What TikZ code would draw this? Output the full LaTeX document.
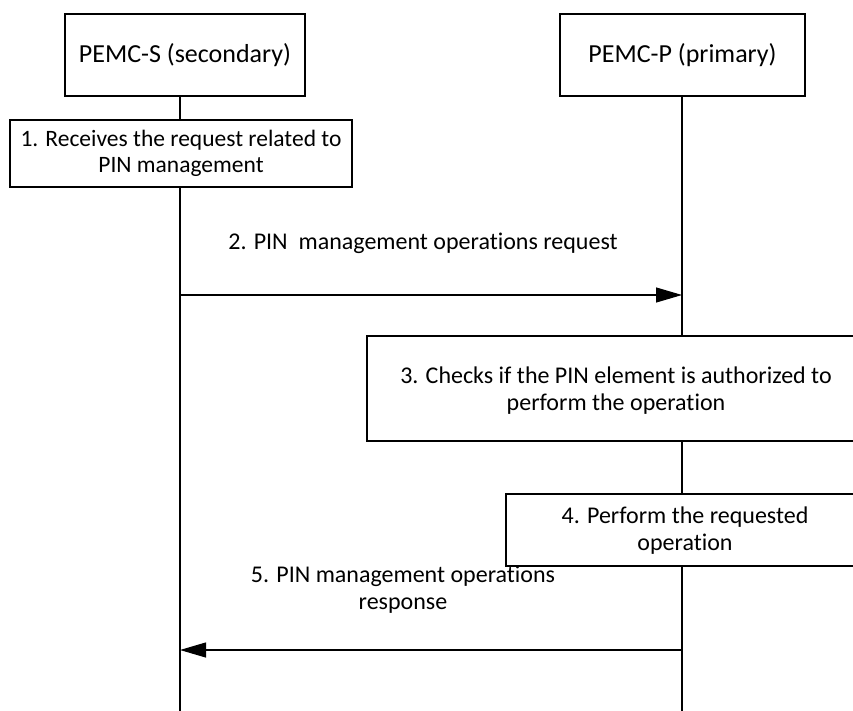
\documentclass[tikz,border=0pt]{standalone}
\usepackage{fontspec}
\setmainfont[Ligatures={NoCommon}]{Carlito}
\usepackage{tikz}
\usetikzlibrary{arrows.meta}

\tikzset{
  entity/.style = {draw, fill=white, line width=1.1pt, inner sep=0pt, font=\fontsize{26}{30}\selectfont},
  stepbox/.style = {draw, fill=white, line width=1.1pt, inner sep=0pt, align=center, font=\fontsize{23.5}{26}\selectfont},
  msg/.style = {line width=1.1pt, -{Triangle[length=26pt, width=15pt]}},
  msglabel/.style = {align=center, font=\fontsize{24}{27}\selectfont},
  lifeline/.style = {line width=1.3pt}
}

\begin{document}
\begin{tikzpicture}[x=1pt, y=-1pt]

\useasboundingbox (0,0) rectangle (853,711);
\clip (0,0) rectangle (853,711);

% participants
\node[entity, minimum width=240pt, minimum height=82pt] (sec) at (185,55) {PEMC-S (secondary)};
\node[entity, minimum width=245pt, minimum height=82pt] (pri) at (682.5,55) {PEMC-P (primary)};

\coordinate (secend) at (180,711);
\coordinate (priend) at (682,711);
\draw[lifeline] (180,96) -- (secend);
\draw[lifeline] (682,96) -- (priend);

% step 1
\node[stepbox, minimum width=342pt, minimum height=67pt] (recv) at (181,153.5) {1. Receives the request related to\\PIN management};

% step 2
\node[msglabel] (reqlabel) at (423,243) {2. PIN\ \ management operations request};
\coordinate (reqfrom) at (180,295);
\coordinate (reqto) at (682,295);
\draw[msg] (reqfrom) -- (reqto);

% step 3
\node[stepbox, minimum width=500pt, minimum height=105pt] (check) at (617,388.5) {};
\node[msglabel] (checktext) at (616,391) {3. Checks if the PIN element is authorized to\\perform the operation};

% step 4
\node[stepbox, minimum width=360pt, minimum height=72pt] (perform) at (686,530) {};
\node[msglabel] (performtext) at (685,531) {4. Perform the requested\\operation};

% step 5
\node[msglabel] (resplabel) at (403,590) {5. PIN management operations\\response};
\coordinate (respfrom) at (682,650);
\coordinate (respto) at (180,650);
\draw[msg] (respfrom) -- (respto);

\end{tikzpicture}
\end{document}
